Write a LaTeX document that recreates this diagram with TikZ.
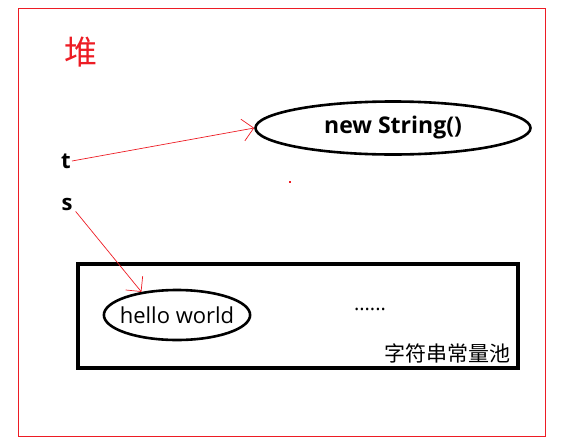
\documentclass[tikz,border=0pt]{standalone}
\usepackage{fontspec}
\setmainfont{Open Sans}
\newfontfamily\cjk{Noto Sans CJK SC}
\usetikzlibrary{arrows.meta,shapes.geometric}
\definecolor{paintred}{RGB}{237,28,36}
\tikzset{
  ref/.style={paintred,line width=0.7pt,-{Straight Barb[length=11pt,width=22pt,line width=0.7pt]}},
  obj/.style={draw,ellipse,line width=2.6pt,inner sep=0pt},
  var/.style={font=\fontsize{22}{24}\selectfont\bfseries,inner sep=1pt}
}
\begin{document}
\begin{tikzpicture}[x=1pt,y=-1pt]
 \useasboundingbox (0,0) rectangle (576,445);
 % heap
 \draw[paintred,line width=1pt] (18,8) rectangle (545,436);
 \node[paintred,font=\cjk\fontsize{33}{35}\selectfont] (heap) at (81,52) {堆};
 % variables
 \node[var] (t) at (66,161) {t};
 \node[var] (s) at (67,204) {s};
 \node[obj,minimum width=275,minimum height=53,font=\fontsize{23}{26}\selectfont\bfseries] (newstr) at (393,128) {new String()};
 % string pool
 \draw[line width=3.2pt] (78,264) rectangle (518,368);
 \node[obj,inner xsep=-5.5pt,minimum height=50,font=\fontsize{22}{24}\selectfont] (hello) at (177,315) {hello world};
 \node[font=\fontsize{20}{24}\selectfont] (dots) at (370,309) {......};
 \node[font=\cjk\fontsize{21}{24}\selectfont] (pool) at (447,353) {字符串常量池};
 \fill[paintred] (289,181) rectangle (291,183);
 % references
 \draw[ref] (t.east) -- (newstr.west);
 \draw[ref] ([xshift=2pt]s.south east) -- (hello.147);
\end{tikzpicture}
\end{document}
